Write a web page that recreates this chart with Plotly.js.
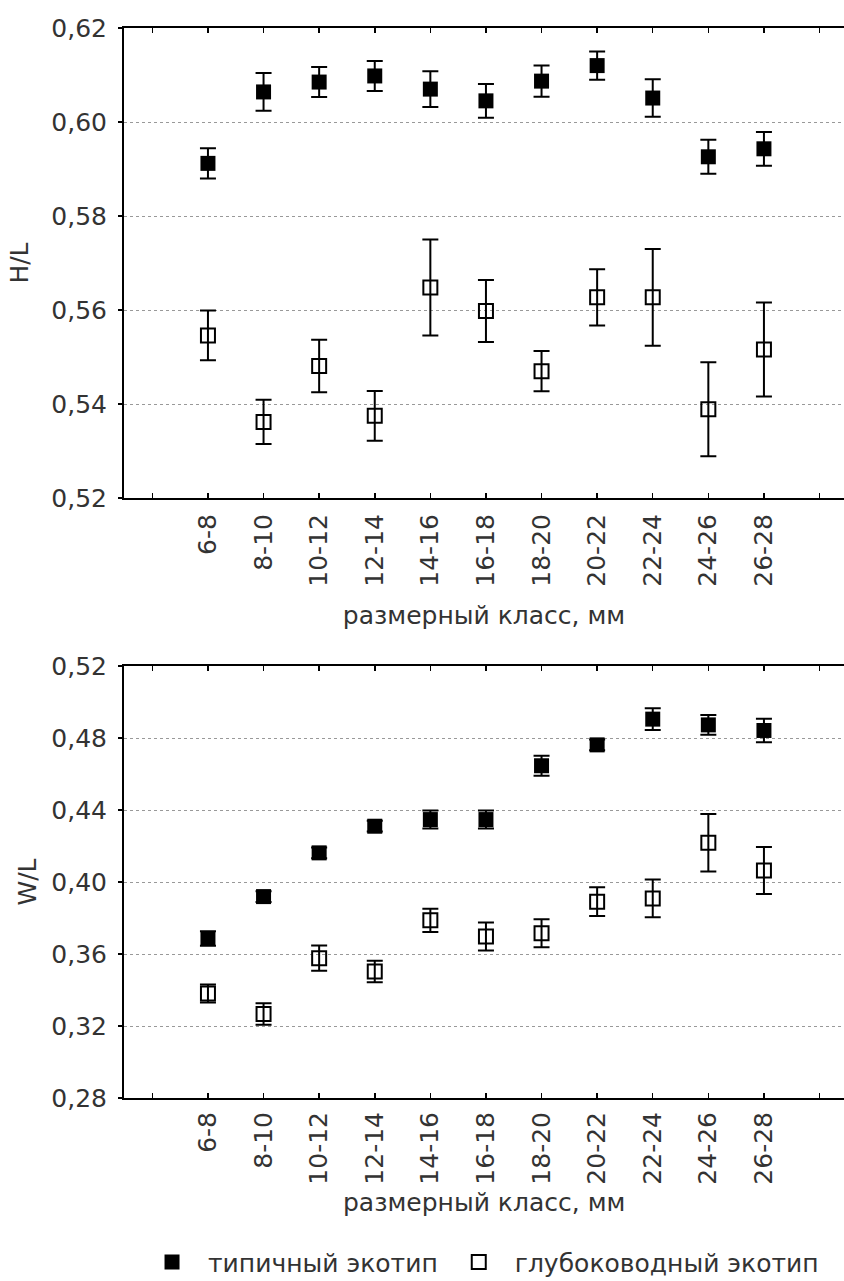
<!DOCTYPE html>
<html>
<head>
<meta charset="utf-8">
<script src="https://cdn.plot.ly/plotly-3.0.1.min.js"></script>
<style>
  html, body { margin: 0; padding: 0; background: #ffffff; }
  #chart { width: 844px; height: 1281px; }
</style>
</head>
<body>
<div id="chart"></div>
<script>
// ---- data ----
const categories = ['6-8', '8-10', '10-12', '12-14', '14-16', '16-18', '18-20', '20-22', '22-24', '24-26', '26-28'];
const tickLabels = ['', '6-8', '8-10', '10-12', '12-14', '14-16', '16-18', '18-20', '20-22', '22-24', '24-26', '26-28', ''];
const seriesNames = ['типичный экотип', 'глубоководный экотип'];

// H/L
const hlTypical    = [0.5912, 0.6064, 0.6085, 0.6098, 0.6070, 0.6045, 0.6087, 0.6120, 0.6051, 0.5926, 0.5943];
const hlTypicalErr = [0.0032, 0.0040, 0.0032, 0.0032, 0.0038, 0.0036, 0.0033, 0.0030, 0.0040, 0.0036, 0.0036];
const hlDeep       = [0.5546, 0.5362, 0.5481, 0.5375, 0.5648, 0.5598, 0.5470, 0.5627, 0.5627, 0.5389, 0.5516];
const hlDeepErr    = [0.0053, 0.0047, 0.0056, 0.0053, 0.0102, 0.0066, 0.0043, 0.0060, 0.0103, 0.0100, 0.0100];

// W/L
const wlTypical    = [0.3686, 0.3919, 0.4162, 0.4310, 0.4347, 0.4347, 0.4646, 0.4762, 0.4905, 0.4873, 0.4842];
const wlTypicalErr = [0.0040, 0.0030, 0.0030, 0.0030, 0.0050, 0.0050, 0.0055, 0.0030, 0.0060, 0.0055, 0.0065];
const wlDeep       = [0.3381, 0.3267, 0.3577, 0.3503, 0.3787, 0.3697, 0.3715, 0.3891, 0.3909, 0.4218, 0.4064];
const wlDeepErr    = [0.0050, 0.0060, 0.0070, 0.0060, 0.0065, 0.0078, 0.0078, 0.0080, 0.0105, 0.0160, 0.0130];

const xTitle = 'размерный класс, мм';
const yTitles = ['H/L', 'W/L'];

// ---- build ----
const xIdx = categories.map((c, i) => i);
const tickVals = tickLabels.map((t, i) => i - 1);
const FONT = 'DejaVu Sans, Liberation Sans, Arial, sans-serif';
const TXT = '#333333';

function errObj(arr) {
  return { type: 'data', array: arr, visible: true, color: '#000000', thickness: 2, width: 8 };
}
function filled(y, err, xa, ya, showleg) {
  return {
    type: 'scatter', mode: 'markers', x: xIdx, y: y, xaxis: xa, yaxis: ya,
    name: seriesNames[0], showlegend: showleg, legendgroup: 'a',
    marker: { symbol: 'square', size: 15, color: '#000000', line: { width: 0 } },
    error_y: errObj(err), cliponaxis: false, hoverinfo: 'x+y'
  };
}
function open(y, err, xa, ya, showleg) {
  return {
    type: 'scatter', mode: 'markers', x: xIdx, y: y, xaxis: xa, yaxis: ya,
    name: seriesNames[1], showlegend: showleg, legendgroup: 'b',
    marker: { symbol: 'square-open', size: 14, color: '#000000', line: { width: 2, color: '#000000' } },
    error_y: errObj(err), cliponaxis: false, hoverinfo: 'x+y'
  };
}

const data = [
  filled(hlTypical, hlTypicalErr, 'x', 'y', false),
  open(hlDeep, hlDeepErr, 'x', 'y', false),
  filled(wlTypical, wlTypicalErr, 'x2', 'y2', true),
  open(wlDeep, wlDeepErr, 'x2', 'y2', true)
];

function xAxis(anchor, title, standoff, lblStandoff) {
  const ax = {
    anchor: anchor, domain: [0, 1],
    range: [-1.51, 11.44], autorange: false,
    tickmode: 'array', tickvals: tickVals, ticktext: tickLabels,
    tickangle: -90, ticks: 'inside', ticklen: 5, tickwidth: 1.5, tickcolor: '#000',
    showline: true, linecolor: '#000', linewidth: 2, mirror: 'ticks',
    showgrid: false, zeroline: false,
    tickfont: { family: FONT, size: 25, color: TXT },
    ticklabelstandoff: lblStandoff,
    fixedrange: true
  };
  if (title) ax.title = { text: title, font: { family: FONT, size: 25, color: TXT }, standoff: standoff };
  return ax;
}
function yAxis(anchor, domain, range, dtick, title, standoff) {
  return {
    anchor: anchor, domain: domain,
    range: range, autorange: false,
    tickmode: 'linear', tick0: range[0], dtick: dtick, tickformat: '.2f',
    ticks: 'outside', ticklen: 4, tickwidth: 1.5, tickcolor: '#000',
    showline: true, linecolor: '#000', linewidth: 2, mirror: true,
    showgrid: true, gridcolor: '#999999', gridwidth: 1, griddash: 'dot',
    zeroline: false,
    tickfont: { family: FONT, size: 25, color: TXT },
    ticklabelstandoff: 6,
    title: { text: title, font: { family: FONT, size: 25, color: TXT }, standoff: standoff },
    fixedrange: true
  };
}

const layout = {
  width: 844, height: 1281,
  margin: { l: 124, r: 0, t: 28, b: 183, autoexpand: false },
  paper_bgcolor: '#ffffff', plot_bgcolor: '#ffffff',
  separators: ', ',
  font: { family: FONT, size: 25, color: TXT },
  xaxis: xAxis('y', xTitle, 21, 4),
  yaxis: yAxis('x', [0.5607, 1], [0.52, 0.62], 0.02, yTitles[0], 16),
  xaxis2: xAxis('y2', null, 0, 2),
  yaxis2: yAxis('x2', [0, 0.4037], [0.28, 0.52], 0.04, yTitles[1], 8),
  annotations: [{
    text: xTitle, xref: 'paper', yref: 'paper', x: 0.5, y: -0.098,
    xanchor: 'center', yanchor: 'middle', showarrow: false,
    font: { family: FONT, size: 25, color: TXT }
  }],
  showlegend: true,
  legend: {
    orientation: 'h', x: 0.0167, xanchor: 'left', y: -0.132, yanchor: 'top',
    font: { family: FONT, size: 25, color: TXT },
    bgcolor: 'rgba(0,0,0,0)', borderwidth: 0, itemwidth: 62,
    traceorder: 'normal'
  }
};

Plotly.newPlot('chart', data, layout, { displayModeBar: false, staticPlot: true });
</script>
</body>
</html>
